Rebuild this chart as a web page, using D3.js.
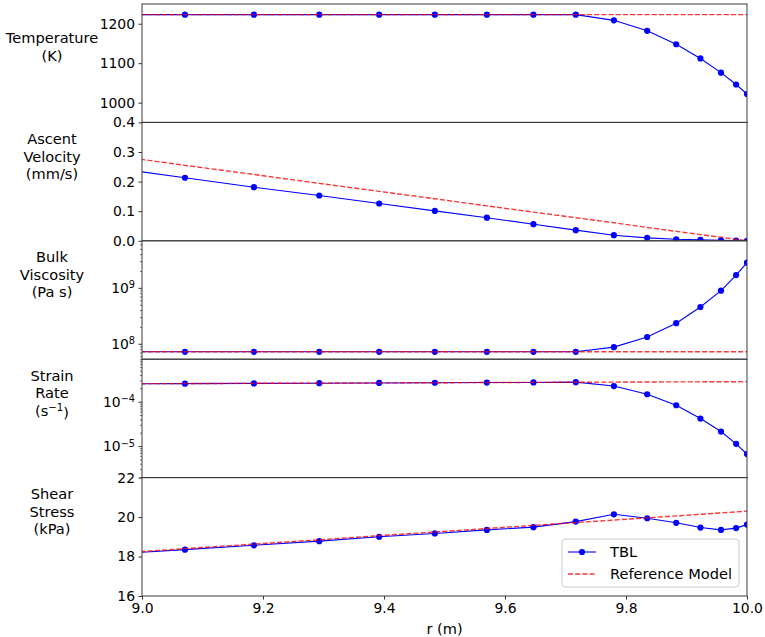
<!DOCTYPE html>
<html>
<head>
<meta charset="utf-8">
<script src="https://cdn.jsdelivr.net/npm/d3@7"></script>
<style>
  body { margin: 0; background: #fff; }
  svg { display: block; font-family: "DejaVu Sans", sans-serif; }
</style>
</head>
<body>
<div id="chart"></div>
<script>
// radial positions of the TBL grid (first one lies just left of the plotted range)
var radius = [8.95, 9.071, 9.185, 9.293, 9.392, 9.484, 9.570, 9.647, 9.717, 9.780, 9.835, 9.883, 9.923, 9.957, 9.982, 10.0];

var tblTemperature = [1223, 1223, 1223, 1223, 1223, 1223, 1223, 1223, 1223, 1208.6, 1182, 1148, 1112, 1076, 1046, 1022];
var refTemperature = [1223, 1223, 1223, 1223, 1223, 1223, 1223, 1223, 1223, 1223, 1223, 1223, 1223, 1223, 1223, 1223];

var tblVelocity = [0.247, 0.213, 0.181, 0.153, 0.126, 0.101, 0.078, 0.056, 0.036, 0.019, 0.010, 0.005, 0.003, 0.0015, 0.0005, 0.0];
var refVelocity = [0.289, 0.255, 0.224, 0.194, 0.167, 0.142, 0.118, 0.097, 0.078, 0.061, 0.045, 0.032, 0.021, 0.012, 0.005, 0.0];

var tblViscosity = [7.18e7, 7.18e7, 7.18e7, 7.18e7, 7.18e7, 7.18e7, 7.18e7, 7.18e7, 7.18e7, 8.7e7, 1.32e8, 2.33e8, 4.54e8, 8.9e8, 1.69e9, 2.82e9];
var refViscosity = [7.18e7, 7.18e7, 7.18e7, 7.18e7, 7.18e7, 7.18e7, 7.18e7, 7.18e7, 7.18e7, 7.18e7, 7.18e7, 7.18e7, 7.18e7, 7.18e7, 7.18e7, 7.18e7];

var tblStrain = [2.52e-4, 2.55e-4, 2.58e-4, 2.61e-4, 2.64e-4, 2.67e-4, 2.70e-4, 2.71e-4, 2.75e-4, 2.25e-4, 1.47e-4, 8.3e-5, 4.16e-5, 2.12e-5, 1.12e-5, 6.6e-6];
var refStrain = [2.53e-4, 2.56e-4, 2.59e-4, 2.62e-4, 2.65e-4, 2.67e-4, 2.70e-4, 2.72e-4, 2.74e-4, 2.76e-4, 2.78e-4, 2.79e-4, 2.80e-4, 2.81e-4, 2.82e-4, 2.83e-4];

var tblStress = [18.12, 18.35, 18.57, 18.78, 19.0, 19.17, 19.35, 19.49, 19.77, 20.14, 19.94, 19.71, 19.47, 19.35, 19.44, 19.62];
var refStress = [18.15, 18.40, 18.63, 18.85, 19.06, 19.24, 19.42, 19.58, 19.72, 19.85, 19.96, 20.06, 20.14, 20.21, 20.26, 20.30];

var xTicks = [9.0, 9.2, 9.4, 9.6, 9.8, 10.0];

var panels = [
  {label: [["Temperature"], ["(K)"]], tbl: tblTemperature, ref: refTemperature,
   log: false, domain: [950, 1250], ticks: [1000, 1100, 1200]},
  {label: [["Ascent"], ["Velocity"], ["(mm/s)"]], tbl: tblVelocity, ref: refVelocity,
   log: false, domain: [0, 0.4], ticks: [0.0, 0.1, 0.2, 0.3, 0.4], fmt: ".1f"},
  {label: [["Bulk"], ["Viscosity"], ["(Pa s)"]], tbl: tblViscosity, ref: refViscosity,
   log: true, domain: [Math.pow(10, 7.724), Math.pow(10, 9.841)], ticks: [1e8, 1e9]},
  {label: [["Strain"], ["Rate"], ["(s", "\u22121", ")"]], tbl: tblStrain, ref: refStrain,
   log: true, domain: [Math.pow(10, -5.711), Math.pow(10, -3.043)], ticks: [1e-5, 1e-4]},
  {label: [["Shear"], ["Stress"], ["(kPa)"]], tbl: tblStress, ref: refStress,
   log: false, domain: [16, 22], ticks: [16, 18, 20, 22]}
];

var margin = {top: 4, right: 18, bottom: 41, left: 142};
var totalW = 765, totalH = 637;
var width = totalW - margin.left - margin.right;
var panelH = (totalH - margin.top - margin.bottom) / panels.length;
var tickSize = 13.9;
var fontSize = 14.6;

var svg = d3.select("#chart").append("svg")
  .attr("width", totalW)
  .attr("height", totalH);

var x = d3.scaleLinear().domain([9, 10]).range([0, width]);

panels.forEach(function (p, i) {
  var top = margin.top + i * panelH;
  var g = svg.append("g").attr("transform", "translate(" + margin.left + "," + top + ")");
  var y = (p.log ? d3.scaleLog() : d3.scaleLinear()).domain(p.domain).range([panelH, 0]);

  var clipId = "clip" + i;
  g.append("clipPath").attr("id", clipId)
    .append("rect").attr("width", width).attr("height", panelH);

  var plot = g.append("g").attr("clip-path", "url(#" + clipId + ")");
  var line = d3.line().x(function (d) { return x(d[0]); }).y(function (d) { return y(d[1]); });
  var tblPts = radius.map(function (r, k) { return [r, p.tbl[k]]; });
  var refPts = radius.map(function (r, k) { return [r, p.ref[k]]; });

  plot.append("path").datum(tblPts)
    .attr("fill", "none").attr("stroke", "#0000ff").attr("stroke-width", 1.1)
    .attr("d", line);
  plot.selectAll("circle").data(tblPts).enter().append("circle")
    .attr("cx", function (d) { return x(d[0]); })
    .attr("cy", function (d) { return y(d[1]); })
    .attr("r", 3.1).attr("fill", "#0000ff");
  plot.append("path").datum(refPts)
    .attr("fill", "none").attr("stroke", "#ff0000").attr("stroke-opacity", 0.8)
    .attr("stroke-width", 1.4).attr("stroke-dasharray", "5,2.2")
    .attr("d", line);

  // major ticks
  var yAxis = d3.axisLeft(y).tickValues(p.ticks).tickSize(3.5).tickPadding(3.5);
  if (p.log) yAxis.tickFormat(function () { return ""; });
  else yAxis.tickFormat(d3.format(p.fmt || "d"));
  var ax = g.append("g").call(yAxis);
  ax.select(".domain").remove();
  ax.selectAll("line").attr("stroke", "#333");
  ax.selectAll("text").attr("font-size", tickSize).attr("fill", "#000")
    .attr("font-family", "DejaVu Sans");
  if (p.log) {
    ax.selectAll("text").each(function (d) {
      var t = d3.select(this);
      var e = Math.round(Math.log10(d));
      t.text("10");
      t.append("tspan").attr("dy", "-0.45em").attr("font-size", tickSize * 0.7)
        .text(e < 0 ? "\u2212" + Math.abs(e) : String(e));
    });
    // minor ticks
    var minor = [];
    var lo = Math.floor(Math.log10(p.domain[0])), hi = Math.ceil(Math.log10(p.domain[1]));
    for (var e = lo; e < hi; e++) {
      for (var m = 2; m <= 9; m++) {
        var v = m * Math.pow(10, e);
        if (v >= p.domain[0] && v <= p.domain[1]) minor.push(v);
      }
    }
    var mx = g.append("g").call(d3.axisLeft(y).tickValues(minor).tickSize(2).tickFormat(function () { return ""; }));
    mx.select(".domain").remove();
    mx.selectAll("line").attr("stroke", "#333").attr("stroke-width", 0.7);
  }

  // frame
  g.append("rect").attr("width", width).attr("height", panelH)
    .attr("fill", "none").attr("stroke", "#3a3a3a").attr("stroke-width", 1);

  // multi-line horizontal ylabel, bottom of the block at the panel middle
  var lineH = fontSize * 1.2;
  var nLines = p.label.length;
  var lab = g.append("text").attr("text-anchor", "middle")
    .attr("font-size", fontSize).attr("fill", "#000");
  p.label.forEach(function (parts, k) {
    var baseY = panelH / 2 - 2.5 - (nLines - 1 - k) * lineH;
    lab.append("tspan").attr("x", 52 - margin.left).attr("y", baseY).text(parts[0]);
    if (parts.length > 1) {
      lab.append("tspan").attr("dy", "-0.45em").attr("font-size", fontSize * 0.7).text(parts[1]);
      lab.append("tspan").attr("dy", "0.45em").text(parts[2]);
    }
  });

  if (i === panels.length - 1) {
    var xAxis = d3.axisBottom(x).tickValues(xTicks).tickSize(3.5).tickPadding(3.5)
      .tickFormat(d3.format(".1f"));
    var xa = g.append("g").attr("transform", "translate(0," + panelH + ")").call(xAxis);
    xa.select(".domain").remove();
    xa.selectAll("line").attr("stroke", "#333");
    xa.selectAll("text").attr("font-size", tickSize).attr("fill", "#000")
      .attr("font-family", "DejaVu Sans");

    g.append("text").attr("x", width / 2).attr("y", panelH + 38)
      .attr("text-anchor", "middle").attr("font-size", fontSize).text("r (m)");

    // legend
    var lg = g.append("g").attr("transform", "translate(" + (562 - margin.left) + "," + (539 - top) + ")");
    lg.append("rect").attr("width", 177).attr("height", 48).attr("rx", 3)
      .attr("fill", "#fff").attr("fill-opacity", 0.8)
      .attr("stroke", "#cccccc").attr("stroke-width", 1);
    lg.append("line").attr("x1", 6).attr("x2", 34).attr("y1", 13).attr("y2", 13)
      .attr("stroke", "#0000ff").attr("stroke-width", 1.1);
    lg.append("circle").attr("cx", 20).attr("cy", 13).attr("r", 3.1).attr("fill", "#0000ff");
    lg.append("line").attr("x1", 6).attr("x2", 34).attr("y1", 35).attr("y2", 35)
      .attr("stroke", "#ff0000").attr("stroke-opacity", 0.8)
      .attr("stroke-width", 1.4).attr("stroke-dasharray", "5,2.2");
    lg.append("text").attr("x", 48).attr("y", 18).attr("font-size", fontSize).text("TBL");
    lg.append("text").attr("x", 48).attr("y", 40).attr("font-size", fontSize).text("Reference Model");
  }
});
</script>
</body>
</html>
